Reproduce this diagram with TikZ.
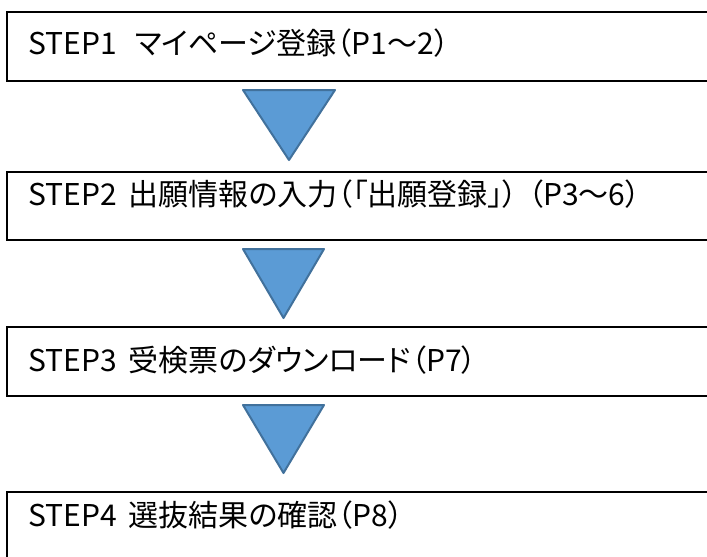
\documentclass[tikz,border=0pt]{standalone}
\usepackage{fontspec}
\newfontfamily\jpfont[RawFeature=+palt]{Noto Sans CJK JP}
\tikzset{
  stepbox/.style={draw=black, line width=1.5pt, minimum width=705pt, inner sep=0pt},
  steptext/.style={anchor=base west, inner sep=0pt, font=\jpfont\fontsize{30}{36}\selectfont},
  downarrow/.style={fill=arrowblue, draw=arrowedge, line width=2pt, line join=round}
}
\definecolor{arrowblue}{HTML}{5B9BD5}
\definecolor{arrowedge}{HTML}{41719C}
\begin{document}
\begin{tikzpicture}[x=1pt,y=-1pt]
\clip (0,0) rectangle (707,557);
\fill[white] (0,0) rectangle (707,557);

\node[stepbox, minimum height=69pt] (box1) at (359.5,46.5) {};
\node[stepbox, minimum height=68pt] (box2) at (359.5,206) {};
\node[stepbox, minimum height=69pt] (box3) at (359.5,361.5) {};
\node[stepbox, minimum height=69pt] (box4) at (359.5,526.5) {};

\node[steptext] (txt1) at (28,54) {STEP1\hspace{0.6em}マイページ登録（P1～2）};
\node[steptext] (txt2) at (28,205) {STEP2\hspace{0.4em}出願情報の入力（「出願登録」）\hspace{0.35em}（P3～6）};
\node[steptext] (txt3) at (28,371) {STEP3\hspace{0.4em}受検票のダウンロード（P7）};
\node[steptext] (txt4) at (28,526) {STEP4\hspace{0.4em}選抜結果の確認（P8）};

\draw[downarrow] (243,90) -- (335,90) -- (289,160) -- cycle;
\draw[downarrow] (243,249) -- (324,249) -- (283.5,318) -- cycle;
\draw[downarrow] (243,405) -- (324,405) -- (283.5,473) -- cycle;

\end{tikzpicture}
\end{document}
